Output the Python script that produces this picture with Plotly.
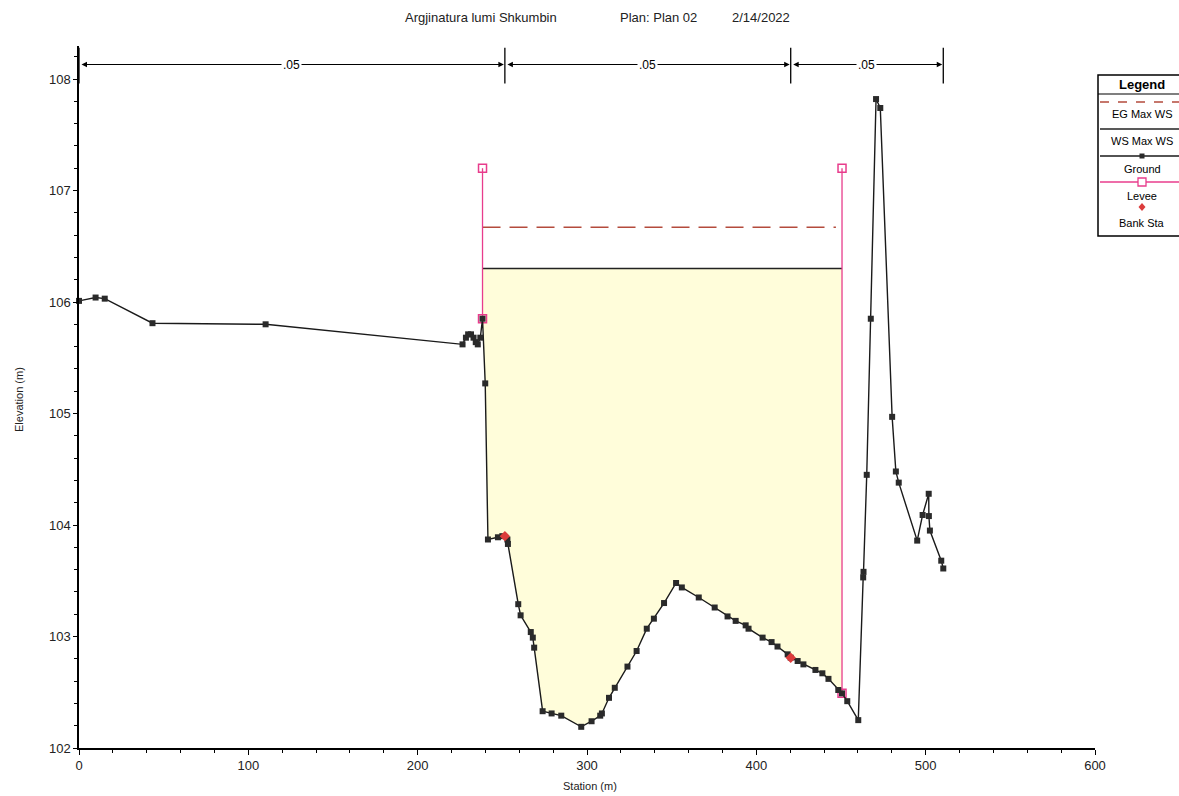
import plotly.graph_objects as go

# ---------------- data ----------------
title_parts = ["Argjinatura lumi Shkumbin", "Plan: Plan 02", "2/14/2022"]

ground_sta = [0, 9.8, 15.2, 43.4, 110.2, 226.5, 228.5, 229.8, 231.5, 233.0, 234.3, 235.5,
              237.0, 238.3, 239.9, 241.5, 247.4, 250.0, 253.0, 253.3, 259.4, 260.8, 266.8,
              268.0, 268.8, 273.8, 279.1, 284.8, 296.6, 302.7, 307.8, 308.8, 313.0, 316.4,
              323.9, 329.3, 335.3, 339.5, 345.5, 352.6, 356.0, 366.0, 375.4, 383.0, 387.8,
              393.7, 395.4, 403.7, 409.0, 412.5, 418.5, 420.3, 424.4, 427.8, 434.9, 439.0,
              442.6, 448.4, 450.6, 453.7, 460.2, 463.1, 463.3, 465.2, 467.6, 470.7, 473.2,
              480.2, 482.4, 484.1, 495.0, 498.2, 501.8, 501.9, 502.5, 509.2, 510.4]
ground_elev = [106.01, 106.04, 106.03, 105.81, 105.80, 105.62, 105.68, 105.71, 105.71, 105.68,
               105.64, 105.62, 105.68, 105.85, 105.27, 103.87, 103.89, 103.90, 103.87, 103.83,
               103.29, 103.19, 103.04, 102.99, 102.90, 102.33, 102.31, 102.29, 102.19, 102.24,
               102.29, 102.31, 102.45, 102.54, 102.73, 102.87, 103.07, 103.16, 103.30, 103.48,
               103.44, 103.35, 103.26, 103.18, 103.14, 103.10, 103.07, 102.99, 102.95, 102.91,
               102.84, 102.81, 102.78, 102.75, 102.70, 102.67, 102.62, 102.52, 102.49, 102.42,
               102.25, 103.53, 103.58, 104.45, 105.85, 107.82, 107.74, 104.97, 104.48, 104.38,
               103.86, 104.09, 104.28, 104.08, 103.95, 103.68, 103.61]

levee_sta = [238.3, 450.6]
levee_top = [107.20, 107.20]
levee_ground = [105.85, 102.49]

bank_sta = [251.5, 420.3]
bank_elev = [103.90, 102.81]

ws_elev = 106.30
eg_elev = 106.67
eg_end = 447.0

n_values = [".05", ".05", ".05"]
n_elev = 108.13
n_breaks = [ground_sta[0], bank_sta[0], bank_sta[1], ground_sta[-1]]

legend_names = ["EG Max WS", "WS Max WS", "Ground", "Levee", "Bank Sta"]

# ---------------- styles ----------------
FONT = "Liberation Sans, Arial, sans-serif"
PINK = "rgb(232,60,140)"
EGC = "rgb(180,75,60)"
GROUNDC = "#1a1a1a"
FILLC = "rgb(255,253,218)"

fig = go.Figure()

# water fill between levees
L, R = levee_sta
fx = [L, L] + [s for s in ground_sta if L < s < R] + [R, R]
fy = [ws_elev, levee_ground[0]] + [e for s, e in zip(ground_sta, ground_elev) if L < s < R] + [levee_ground[1], ws_elev]
fig.add_trace(go.Scatter(x=fx, y=fy, fill="toself", fillcolor=FILLC, mode="none",
                         hoverinfo="skip", showlegend=False))

# WS line
fig.add_trace(go.Scatter(x=[L, R], y=[ws_elev, ws_elev], mode="lines",
                         line=dict(color="#222222", width=1.4), showlegend=False))
# EG line
fig.add_trace(go.Scatter(x=[L, eg_end], y=[eg_elev, eg_elev], mode="lines",
                         line=dict(color=EGC, width=1.4, dash="18px,9px"), showlegend=False))

# levees
for s, t, g in zip(levee_sta, levee_top, levee_ground):
    fig.add_trace(go.Scatter(x=[s, s], y=[t, g], mode="lines+markers",
                             line=dict(color=PINK, width=1.3),
                             marker=dict(symbol="square-open", size=8, color=PINK, line=dict(width=1.5)),
                             showlegend=False, cliponaxis=False))

# ground
fig.add_trace(go.Scatter(x=ground_sta, y=ground_elev, mode="lines+markers",
                         line=dict(color=GROUNDC, width=1.4),
                         marker=dict(symbol="square", size=6, color="#2a2a2a"),
                         showlegend=False, cliponaxis=False))

# bank stations
fig.add_trace(go.Scatter(x=bank_sta, y=bank_elev, mode="markers",
                         marker=dict(symbol="diamond", size=8, color="rgb(220,60,60)"),
                         showlegend=False))

# Manning's n bar
for b in n_breaks:
    fig.add_shape(type="line", xref="x", yref="y", x0=b, x1=b, y0=107.96, y1=108.28,
                  line=dict(color="black", width=1.3))
for i, nv in enumerate(n_values):
    a, b = n_breaks[i], n_breaks[i + 1]
    fig.add_annotation(x=b, y=n_elev, ax=a, ay=n_elev, xref="x", yref="y", axref="x", ayref="y",
                       text="", showarrow=True, arrowside="end+start", arrowhead=2,
                       arrowsize=1.1, arrowwidth=1, arrowcolor="black", standoff=1, startstandoff=1)
    fig.add_annotation(x=(a + b) / 2, y=n_elev, xref="x", yref="y", text=nv, showarrow=False,
                       xanchor="center", yanchor="middle",
                       bgcolor="white", font=dict(family=FONT, size=12, color="black"), borderpad=1)

# ---------------- pixel helpers for layout items ----------------
PL, PR, PT, PB = 79, 1095, 46, 748


def px(x):
    return (x - PL) / (PR - PL)


def py(y):
    return (PB - y) / (PB - PT)


def label(x, y, text, size, angle=0, color="#222"):
    fig.add_annotation(x=px(x), y=py(y), xref="paper", yref="paper", text=text, showarrow=False,
                       xanchor="center", yanchor="middle", textangle=angle,
                       font=dict(family=FONT, size=size, color=color))


# title
for txt, cx in zip(title_parts, [481, 658, 761]):
    label(cx, 18, txt, 13)

# axis titles
label(19, 400, "Elevation (m)", 11, angle=-90)
label(590, 786, "Station (m)", 11)

# legend (drawn box)
LX0, LX1, LY0, LY1 = 1098, 1190, 75, 236
fig.add_shape(type="rect", xref="paper", yref="paper", x0=px(LX0), x1=px(LX1), y0=py(LY1), y1=py(LY0),
              line=dict(color="black", width=1.5), fillcolor="white")
fig.add_shape(type="line", xref="paper", yref="paper", x0=px(LX0), x1=px(LX1), y0=py(94), y1=py(94),
              line=dict(color="black", width=1.2))
LCX = 1142
label(LCX, 84, "<b>Legend</b>", 13, color="black")
sample_y = [102, 129, 156, 182, 207]
text_y = [114, 141, 169, 196, 223]
for name, ty in zip(legend_names, text_y):
    label(LCX, ty, name, 11, color="black")


def hline(y, color, dash="solid"):
    fig.add_shape(type="line", xref="paper", yref="paper", x0=px(1100), x1=px(1185), y0=py(y), y1=py(y),
                  line=dict(color=color, width=1.3, dash=dash))


hline(sample_y[0], EGC, "dash")
hline(sample_y[1], "#222")
hline(sample_y[2], GROUNDC)
fig.add_shape(type="rect", xref="paper", yref="paper", x0=px(LCX - 2.5), x1=px(LCX + 2.5),
              y0=py(sample_y[2] + 2.5), y1=py(sample_y[2] - 2.5), line=dict(width=0), fillcolor="#2a2a2a")
hline(sample_y[3], PINK)
fig.add_shape(type="rect", xref="paper", yref="paper", x0=px(LCX - 4), x1=px(LCX + 4),
              y0=py(sample_y[3] + 4), y1=py(sample_y[3] - 4), line=dict(color=PINK, width=1.3), fillcolor="white")
by = sample_y[4]
fig.add_shape(type="path", xref="paper", yref="paper",
              path=f"M {px(LCX)} {py(by - 4)} L {px(LCX + 3.5)} {py(by)} L {px(LCX)} {py(by + 4)} L {px(LCX - 3.5)} {py(by)} Z",
              line=dict(width=0), fillcolor="rgb(220,60,60)")

axis_common = dict(showline=True, linecolor="black", linewidth=1.5, ticks="outside", tickcolor="black",
                   tickwidth=1, showgrid=False, zeroline=False,
                   tickfont=dict(family=FONT, size=13, color="#222"))

fig.update_layout(
    width=1179, height=796,
    margin=dict(l=PL, r=1179 - PR, t=PT, b=796 - PB, autoexpand=False),
    paper_bgcolor="white", plot_bgcolor="white",
    showlegend=False,
    xaxis=dict(range=[0, 600], dtick=100, ticklen=5,
               minor=dict(dtick=20, ticks="outside", ticklen=3, tickcolor="black"), **axis_common),
    yaxis=dict(range=[102, 102 + (PB - PT) / 111.5], dtick=1, ticklen=4,
               minor=dict(dtick=0.2, ticks="outside", ticklen=3, tickcolor="black"), **axis_common),
)

fig.write_html("out.html", config={"displayModeBar": False},
               post_script="document.body.style.margin='0';document.body.style.overflow='hidden';")
